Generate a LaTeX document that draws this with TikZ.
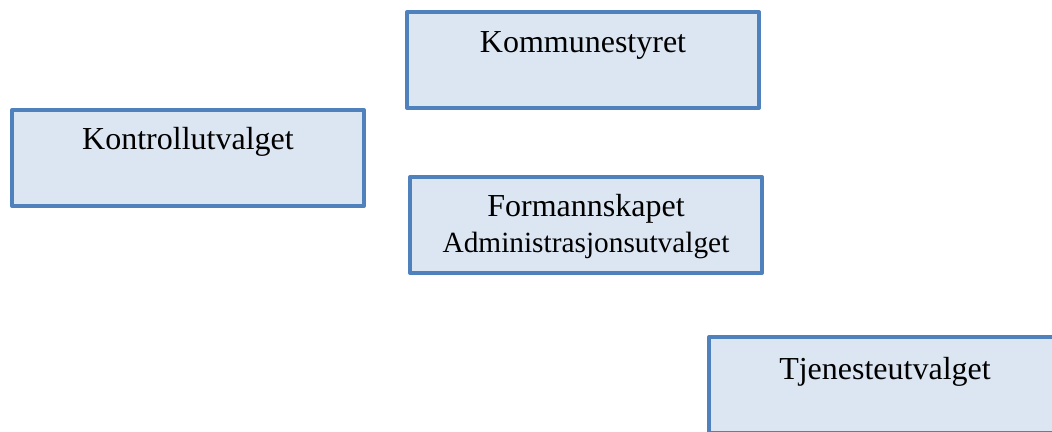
\documentclass[tikz,border=0pt]{standalone}
\usepackage{fontspec}
\setmainfont{Liberation Serif}
\definecolor{boxline}{HTML}{4F81BD}
\definecolor{boxfill}{HTML}{DCE6F2}
\tikzset{
  unit/.style={draw=boxline, fill=boxfill, line width=1.5pt, line join=round,
    minimum width=132pt, minimum height=36pt, inner sep=0pt, outer sep=0pt,
    anchor=north west},
  unitname/.style={anchor=base, inner sep=0pt, align=center,
    font=\fontsize{12}{13.5}\selectfont}
}
\begin{document}
\begin{tikzpicture}[x=0.375pt, y=-0.375pt]

    % page of the reference, 1052 x 432
    \clip (0,0) rectangle (1052,432);

    % the four boxes
    \node[unit] (kom) at (407,12) {};
    \node[unit] (kontroll) at (12,110) {};
    \node[unit] (formann) at (410,177) {};
    \node[unit] (tjeneste) at (709,337) {};

    % names, near the top of each box (base = last line)
    \node[unitname] (komname) at ([yshift=-15.2pt]kom.north) {Kommunestyret};
    \node[unitname] (kontrollname) at ([yshift=-15pt]kontroll.north) {Kontrollutvalget};
    \node[unitname] (formannname) at ([yshift=-28.5pt]formann.north)
      {Formannskapet\\{\fontsize{11}{13.5}\selectfont Administrasjonsutvalget}};
    \node[unitname] (tjenestename) at ([yshift=-16pt]tjeneste.north) {Tjenesteutvalget};

\end{tikzpicture}
\end{document}
